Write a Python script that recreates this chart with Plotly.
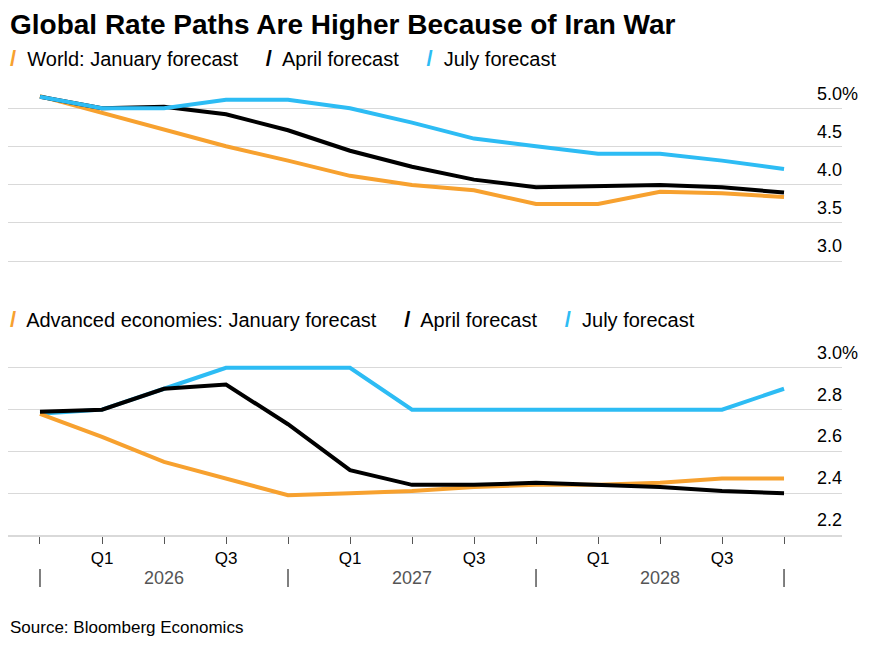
import plotly.graph_objects as go

quarters = list(range(13))  # Q4 2025 .. Q4 2028
q_labels = ["", "Q1", "", "Q3", "", "Q1", "", "Q3", "", "Q1", "", "Q3", ""]
years = ["2026", "2027", "2028"]

world_jan = [5.17, 4.95, 4.72, 4.51, 4.32, 4.12, 4.0, 3.93, 3.75, 3.75, 3.91, 3.89, 3.84]
world_apr = [5.16, 5.01, 5.03, 4.93, 4.72, 4.45, 4.24, 4.07, 3.97, 3.98, 4.0, 3.97, 3.9]
world_jul = [5.16, 5.01, 5.01, 5.12, 5.12, 5.01, 4.82, 4.61, 4.51, 4.41, 4.41, 4.32, 4.21]

adv_jan = [2.78, 2.67, 2.55, 2.47, 2.39, 2.40, 2.41, 2.43, 2.44, 2.44, 2.45, 2.47, 2.47]
adv_apr = [2.79, 2.80, 2.90, 2.92, 2.73, 2.51, 2.44, 2.44, 2.45, 2.44, 2.43, 2.41, 2.40]
adv_jul = [2.78, 2.80, 2.90, 3.0, 3.0, 3.0, 2.8, 2.8, 2.8, 2.8, 2.8, 2.8, 2.9]

top_ticks = [3.0, 3.5, 4.0, 4.5, 5.0]
top_text = ["3.0", "3.5", "4.0", "4.5", "5.0%"]
bot_ticks = [2.2, 2.4, 2.6, 2.8, 3.0]
bot_text = ["2.2", "2.4", "2.6", "2.8", "3.0%"]

ORANGE, BLACK, BLUE = "#f7a12f", "#000000", "#2dbcf4"
FONT = "Liberation Sans"

fig = go.Figure()
for ys, c in [(world_jan, ORANGE), (world_apr, BLACK), (world_jul, BLUE)]:
    fig.add_trace(go.Scatter(x=quarters, y=ys, mode="lines", line=dict(color=c, width=4),
                             xaxis="x", yaxis="y", showlegend=False))
for ys, c in [(adv_jul, BLUE), (adv_jan, ORANGE), (adv_apr, BLACK)]:
    fig.add_trace(go.Scatter(x=quarters, y=ys, mode="lines", line=dict(color=c, width=4),
                             xaxis="x2", yaxis="y2", showlegend=False))

# page body has an 8px margin, so offsets are 8px smaller than the target
L, T, W = 0, 82, 834
xr = [-0.516, 12.935]
grid = "#d9d9d9"
fig.update_layout(
    width=889, height=656, plot_bgcolor="white", paper_bgcolor="white",
    margin=dict(l=L, r=889 - L - W, t=T, b=656 - T - 445),
    font=dict(family=FONT, size=18, color="black"),
    xaxis=dict(range=xr, domain=[0, 1], anchor="y", showticklabels=False, showgrid=False,
               zeroline=False, ticks="", showline=True, linecolor=grid, linewidth=1),
    yaxis=dict(range=[3.0, 5.25], domain=[0.616, 1], tickvals=top_ticks, showticklabels=False,
               gridcolor=grid, zeroline=False),
    xaxis2=dict(range=xr, domain=[0, 1], anchor="y2", tickvals=quarters, ticktext=q_labels,
                ticks="outside", ticklen=7, tickcolor="#555", showgrid=False, zeroline=False,
                showline=True, linecolor=grid, linewidth=2, tickfont=dict(size=17)),
    yaxis2=dict(range=[2.2, 3.086], domain=[0, 0.416], tickvals=bot_ticks, showticklabels=False,
                gridcolor=grid, zeroline=False),
)

lab_x = 807 / W
ann = []
for v, t in zip(top_ticks, top_text):
    ann.append(dict(x=lab_x, xref="paper", xanchor="left", y=v, yref="y", yanchor="bottom",
                    yshift=3, text=t, showarrow=False, font=dict(size=18)))
for v, t in zip(bot_ticks, bot_text):
    ann.append(dict(x=lab_x, xref="paper", xanchor="left", y=v, yref="y2", yanchor="bottom",
                    yshift=3, text=t, showarrow=False, font=dict(size=18)))

def legend(labels, y):
    parts = []
    for lab, c in labels:
        parts.append(f"<span style='color:{c};font-size:22px'><b>/</b></span>  {lab}")
    return dict(x=0, xref="paper", xanchor="left", y=y, yref="paper", yanchor="middle",
                text="     ".join(parts), showarrow=False, font=dict(size=20))

ann.append(legend([("World: January forecast", ORANGE), ("April forecast", BLACK),
                   ("July forecast", BLUE)], 1 + 31 / 445))
ann.append(legend([("Advanced economies: January forecast", ORANGE), ("April forecast", BLACK),
                   ("July forecast", BLUE)], (535 - 319) / 445))
ann.append(dict(x=0, xref="paper", xanchor="left", y=1 + 66 / 445, yref="paper",
                yanchor="middle", text="<b>Global Rate Paths Are Higher Because of Iran War</b>",
                showarrow=False, font=dict(size=28)))
ann.append(dict(x=0, xref="paper", xanchor="left", y=-92 / 445, yref="paper",
                yanchor="middle", text="Source: Bloomberg Economics", showarrow=False,
                font=dict(size=17)))
for i, yr in enumerate(years):
    ann.append(dict(x=2 + 4 * i, xref="x2", y=-43 / 445, yref="paper", yanchor="middle",
                    text=yr, showarrow=False, font=dict(size=18, color="#555")))

shapes = []
for q in range(0, 13, 4):
    shapes.append(dict(type="line", xref="x2", yref="paper", x0=q, x1=q,
                       y0=-52 / 445, y1=-34 / 445, line=dict(color="#555", width=1.5)))

fig.update_layout(annotations=ann, shapes=shapes)
fig.write_html("out.html")
